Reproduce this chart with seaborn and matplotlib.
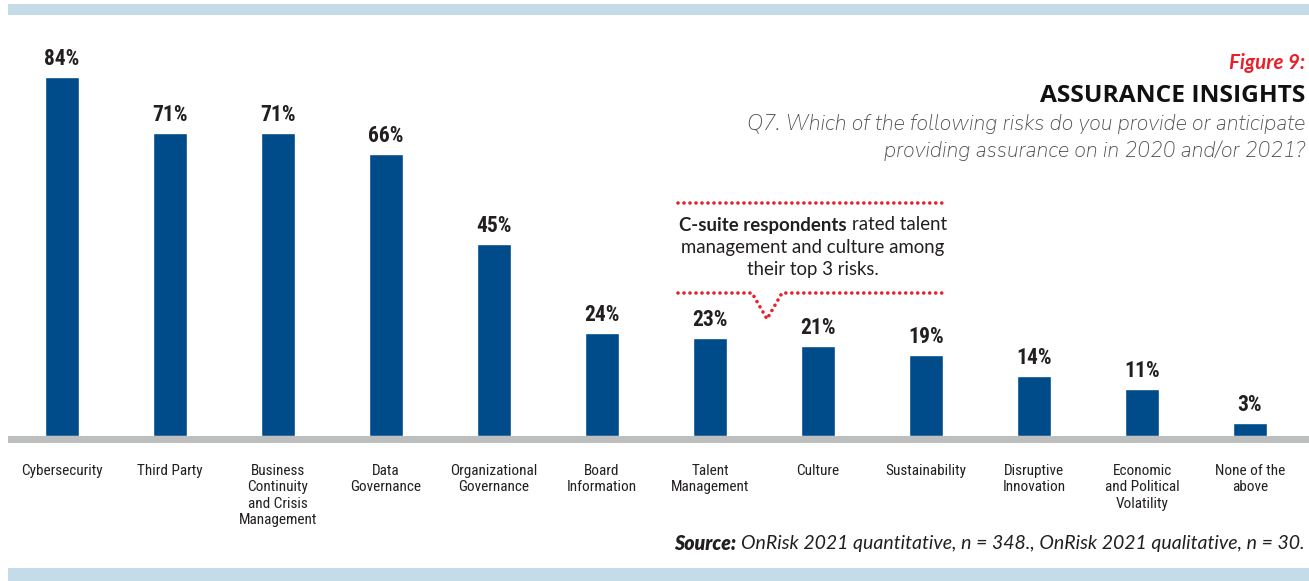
import matplotlib
matplotlib.use("Agg")
import matplotlib.pyplot as plt
import seaborn as sns
import pandas as pd
from matplotlib import font_manager as fm
from matplotlib.patches import Rectangle
from matplotlib.lines import Line2D

# ---------------- data ----------------
categories = [
    "Cybersecurity",
    "Third Party",
    "Business\nContinuity\nand Crisis\nManagement",
    "Data\nGovernance",
    "Organizational\nGovernance",
    "Board\nInformation",
    "Talent\nManagement",
    "Culture",
    "Sustainability",
    "Disruptive\nInnovation",
    "Economic\nand Political\nVolatility",
    "None of the\nabove",
]
values = [84, 71, 71, 66, 45, 24, 23, 21, 19, 14, 11, 3]
value_labels = [f"{v}%" for v in values]

fig_label = "Figure 9:"
title = "ASSURANCE INSIGHTS"
subtitle = ["Q7. Which of the following risks do you provide or anticipate",
            "providing assurance on in 2020 and/or 2021?"]
note_bold = "C-suite respondents"
note_lines = ["rated talent", "management and culture among", "their top 3 risks."]
source_bold = "Source:"
source_text = "OnRisk 2021 quantitative, n = 348., OnRisk 2021 qualitative, n = 30."

# ---------------- style ----------------
W, H = 1309, 581
BAR = "#004b8a"
BAND = "#c3dce8"
AXIS = "#bdbfbf"
DARK = "#231f20"
GREY = "#505153"
RED = "#e8202a"

sns.set_theme(style="white")
flist = fm.fontManager.ttflist
avail = {f.name for f in flist}


def wnum(w):
    return w if isinstance(w, int) else fm.weight_dict.get(w, 400)


def has_bold(n):
    return any(f.name == n and wnum(f.weight) >= 700 for f in flist)


cond = next((n for n in ["Roboto Condensed", "Liberation Sans Narrow",
                         "Archivo Narrow"] if n in avail), "DejaVu Sans")
light = next((n for n in ["Nunito Sans", "Lato"] if n in avail), "DejaVu Sans")
sans = next((n for n in ["Lato", "Open Sans", "Noto Sans"]
             if n in avail and has_bold(n)), "DejaVu Sans")
wide = next((n for n in ["Open Sans", "Noto Sans", "Lato"]
             if n in avail and has_bold(n)), "DejaVu Sans")
plt.rcParams["font.family"] = [sans, "DejaVu Sans"]

fig = plt.figure(figsize=(W / 100, H / 100), dpi=100)
fig.patch.set_facecolor("white")


def fx(x):
    return x / W


def fy(y):
    return 1 - y / H


# ---------------- bars ----------------
ax = fig.add_axes([fx(8), fy(436), 1 - fx(8), 436 / H])
df = pd.DataFrame({"risk": categories, "pct": values})
sns.barplot(data=df, x="risk", y="pct", color=BAR, width=0.315,
            saturation=1, ax=ax)
ax.set_xlim(-0.5, (1309 - 62) / 108)
ax.set_ylim(0, 436 / 4.274)
for s in ax.spines.values():
    s.set_visible(False)
ax.set_yticks([])
ax.set_xlabel("")
ax.set_ylabel("")
ax.patch.set_alpha(0)
ax.tick_params(axis="x", length=0, pad=20)
for lab in ax.get_xticklabels():
    lab.set_fontfamily(cond)
    lab.set_fontsize(11)
    lab.set_linespacing(1.22)
    lab.set_color(DARK)
ax.bar_label(ax.containers[0], labels=value_labels, padding=5,
             fontfamily=cond, fontweight="bold", fontsize=15.5, color=DARK)

# ---------------- decorations ----------------
fig.add_artist(Rectangle((fx(8), fy(15)), 1 - fx(8), 11 / H,
                         transform=fig.transFigure, color=BAND, lw=0))
fig.add_artist(Rectangle((fx(8), fy(581)), 1 - fx(8), 13 / H,
                         transform=fig.transFigure, color=BAND, lw=0))
fig.add_artist(Rectangle((fx(8), fy(443)), 1 - fx(8), 7 / H,
                         transform=fig.transFigure, color=AXIS, lw=0))

renderer = fig.canvas.get_renderer()


def runs(x, y, parts, width, ha="center", gap_em=0.27):
    """Place consecutive text runs on one line, scaled to a target pixel width."""
    texts = [fig.text(0, fy(y), s, va="center", fontsize=10, **kw) for s, kw in parts]
    gap = gap_em * 10 * 100 / 72

    def total():
        ws = [t.get_window_extent(renderer).width for t in texts]
        return ws, sum(ws) + gap * (len(texts) - 1)

    ws, tot = total()
    k = width / tot
    for t in texts:
        t.set_fontsize(10 * k)
    gap *= k
    ws, tot = total()
    start = x - tot / 2 if ha == "center" else (x - tot if ha == "right" else x)
    for t, w in zip(texts, ws):
        t.set_x(fx(start))
        start += w + gap
    return 10 * k


runs(1305, 63, [(fig_label, dict(color=RED, fontweight="bold", fontstyle="italic"))],
     76, ha="right")
runs(1305, 96, [(title, dict(color="#111111", fontweight="bold",
                             family=[wide, "DejaVu Sans"]))], 264, ha="right")
sub_size = runs(1305, 124, [(subtitle[0], dict(color=GREY, fontstyle="italic",
                                               family=[light, "DejaVu Sans"]))],
                558, ha="right")
fig.text(fx(1305), fy(151), subtitle[1], ha="right", va="center", color=GREY,
         fontsize=sub_size, fontstyle="italic", family=[light, "DejaVu Sans"])

note_size = runs(813, 247, [(note_lines[1], dict(color=DARK))], 263)
runs(813, 225, [(note_bold, dict(fontweight="bold", color=DARK)),
                (note_lines[0], dict(color=DARK))], 268)
fig.text(fx(813), fy(270), note_lines[2], ha="center", va="center",
         fontsize=note_size, color=DARK)

dot = dict(color=RED, lw=2.6, linestyle=(0, (0.01, 1.65)),
           dash_capstyle="round", transform=fig.transFigure)
fig.add_artist(Line2D([fx(678), fx(947)], [fy(203), fy(203)], **dot))
fig.add_artist(Line2D([fx(678), fx(752), fx(767), fx(782), fx(947)],
                      [fy(293), fy(293), fy(319), fy(293), fy(293)], **dot))

runs(1305, 543, [(source_bold, dict(fontweight="heavy", fontstyle="italic", color=DARK)),
                 (source_text, dict(fontstyle="italic", color=DARK))],
     632, ha="right")

fig.savefig("out.png", dpi=100)
